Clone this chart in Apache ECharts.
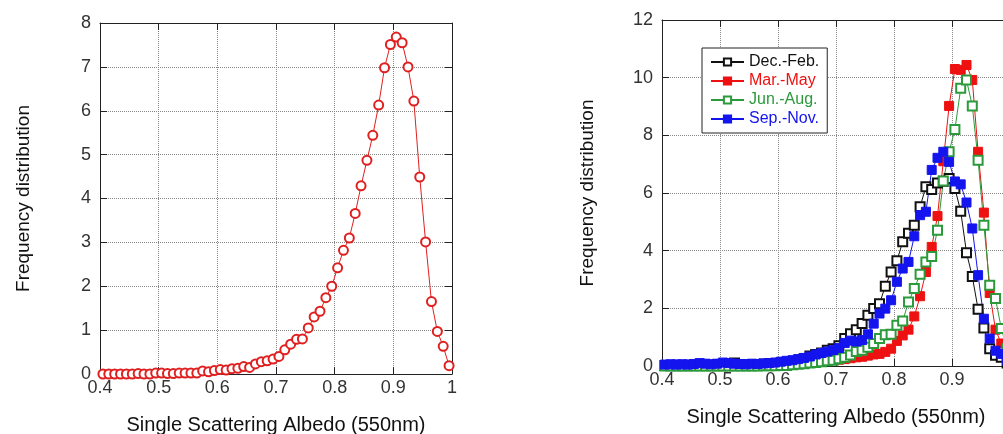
<!DOCTYPE html>
<html>
<head>
<meta charset="utf-8">
<script src="https://cdn.jsdelivr.net/npm/echarts@6/dist/echarts.min.js"></script>
<style>
html, body { margin: 0; padding: 0; background: #fff; }
#chart { width: 1003px; height: 434px; }
</style>
</head>
<body>
<div id="chart"></div>
<script>
// bin centres of single scattering albedo
var albedo = [
    0.405, 0.415, 0.425, 0.435, 0.445, 0.455, 0.465, 0.475, 0.485, 0.495,
    0.505, 0.515, 0.525, 0.535, 0.545, 0.555, 0.565, 0.575, 0.585, 0.595,
    0.605, 0.615, 0.625, 0.635, 0.645, 0.655, 0.665, 0.675, 0.685, 0.695,
    0.705, 0.715, 0.725, 0.735, 0.745, 0.755, 0.765, 0.775, 0.785, 0.795,
    0.805, 0.815, 0.825, 0.835, 0.845, 0.855, 0.865, 0.875, 0.885, 0.895,
    0.905, 0.915, 0.925, 0.935, 0.945, 0.955, 0.965, 0.975, 0.985, 0.995
];

// left panel: all data
var annual = [
    0, 0, 0, 0, 0, 0, 0.01, 0, 0, 0.02,
    0.02, 0.01, 0.01, 0.02, 0.02, 0.02, 0.02, 0.07, 0.05, 0.08,
    0.1, 0.09, 0.12, 0.13, 0.17, 0.15, 0.23, 0.28, 0.3, 0.34,
    0.4, 0.55, 0.68, 0.79, 0.8, 1.05, 1.3, 1.43, 1.74, 2.0,
    2.42, 2.82, 3.1, 3.66, 4.29, 4.87, 5.44, 6.13, 6.98, 7.51,
    7.68, 7.55, 7.0, 6.22, 4.49, 3.01, 1.65, 0.97, 0.63, 0.19
];

// right panel: seasons
var decFeb = [
    0.02, 0.02, 0.03, 0.02, 0.03, 0.02, 0.04, 0.03, 0.02, 0.05,
    0.04, 0.03, 0.1, 0.03, 0.04, 0.03, 0.05, 0.06, 0.08, 0.09,
    0.1, 0.12, 0.15, 0.2, 0.25, 0.35, 0.4, 0.45, 0.55, 0.6,
    0.7, 0.95, 1.12, 1.26, 1.47, 1.76, 1.99, 2.16, 2.77, 3.26,
    3.65, 4.31, 4.6, 4.88, 5.52, 6.22, 6.12, 6.35, 6.41, 6.5,
    6.16, 5.37, 3.93, 3.1, 1.97, 1.32, 0.6, 0.37, 0.3, 0.1
];
var marMay = [
    0, 0, 0.01, 0, 0.01, 0.01, 0, 0.01, 0.01, 0.01,
    0.01, 0.01, 0.02, 0.02, 0.02, 0.02, 0.03, 0.03, 0.04, 0.05,
    0.05, 0.07, 0.08, 0.1, 0.12, 0.14, 0.15, 0.17, 0.19, 0.21,
    0.22, 0.24, 0.27, 0.3, 0.32, 0.36, 0.4, 0.42, 0.49, 0.6,
    0.87, 1.06, 1.26, 1.72, 2.42, 3.26, 4.13, 5.2, 7.1, 9.02,
    10.3, 10.27, 10.44, 9.92, 7.43, 5.32, 2.53, 1.26, 0.78, 0.3
];
var junAug = [
    0, 0, 0, 0, 0, 0, 0, 0, 0, 0,
    0, 0, 0, 0, 0, 0, 0, 0.01, 0.01, 0.01,
    0.02, 0.02, 0.04, 0.06, 0.08, 0.1, 0.12, 0.15, 0.18, 0.2,
    0.25, 0.3, 0.38, 0.5, 0.55, 0.65, 0.78, 0.95, 1.08, 1.1,
    1.41, 1.56, 2.22, 2.69, 3.18, 3.61, 3.8, 4.71, 6.42, 7.43,
    8.2, 9.63, 9.92, 9.02, 7.14, 4.88, 2.8, 2.34, 1.3, 0.6
];
var sepNov = [
    0.05, 0.06, 0.05, 0.06, 0.05, 0.07, 0.1, 0.08, 0.06, 0.08,
    0.12, 0.1, 0.08, 0.07, 0.06, 0.08, 0.07, 0.09, 0.1, 0.12,
    0.15, 0.18, 0.2, 0.24, 0.28, 0.33, 0.4, 0.45, 0.5, 0.55,
    0.62, 0.8, 0.88, 0.85, 0.9, 1.1, 1.47, 1.82, 1.99, 2.28,
    2.92, 3.38, 3.61, 4.5, 5.23, 5.35, 6.8, 7.22, 7.43, 7.08,
    6.4, 6.3, 5.67, 4.77, 3.15, 1.64, 0.95, 0.53, 0.42, 0.2
];

var seasonNames = ['Dec.-Feb.', 'Mar.-May', 'Jun.-Aug.', 'Sep.-Nov.'];
var seasonColors = ['#111111', '#ee1111', '#2a9a3a', '#1414ee'];
var xTitle = 'Single Scattering Albedo (550nm)';
var yTitle = 'Frequency distribution';

function pairs(ys) {
    return albedo.map(function (x, i) { return [x, ys[i]]; });
}

var font = '"Liberation Sans", Arial, sans-serif';
var frameColor = '#222';

function xAxisMain(grid) {
    return {
        gridIndex: grid, type: 'value', min: 0.4, max: 1, interval: 0.1, position: 'bottom',
        axisLine: { onZero: false, lineStyle: { color: frameColor } },
        axisTick: { inside: true, length: 7, lineStyle: { color: frameColor } },
        axisLabel: {
            color: '#333', fontSize: 18, fontFamily: font, margin: 5,
            formatter: function (v) { return Math.abs(v - 1) < 1e-9 ? '1' : v.toFixed(1); }
        },
        splitLine: { show: true, lineStyle: { type: [1, 1], color: '#888' } },
        name: xTitle, nameLocation: 'middle', nameGap: 41,
        nameTextStyle: { fontSize: 20, color: '#111', fontFamily: font }
    };
}
function xAxisTop(grid) {
    return {
        gridIndex: grid, type: 'value', min: 0.4, max: 1, interval: 0.1, position: 'top',
        axisLine: { onZero: false, lineStyle: { color: frameColor } },
        axisTick: { inside: true, length: 7, lineStyle: { color: frameColor } },
        axisLabel: { show: false }, splitLine: { show: false }
    };
}
function yAxisMain(grid, max, step, gap) {
    return {
        gridIndex: grid, type: 'value', min: 0, max: max, interval: step, position: 'left',
        axisLine: { show: true, onZero: false, lineStyle: { color: frameColor } },
        axisTick: { show: true, inside: true, length: 7, lineStyle: { color: frameColor } },
        axisLabel: { color: '#333', fontSize: 18, fontFamily: font, margin: 9 },
        splitLine: { show: true, lineStyle: { type: [1, 1], color: '#888' } },
        name: yTitle, nameLocation: 'middle', nameGap: gap,
        nameTextStyle: { fontSize: 19, color: '#111', fontFamily: font }
    };
}
function yAxisRight(grid, max, step) {
    return {
        gridIndex: grid, type: 'value', min: 0, max: max, interval: step, position: 'right',
        axisLine: { show: true, onZero: false, lineStyle: { color: frameColor } },
        axisTick: { show: true, inside: true, length: 7, lineStyle: { color: frameColor } },
        axisLabel: { show: false }, splitLine: { show: false }
    };
}

function seasonSeries(i, ys, symbol) {
    return {
        name: seasonNames[i], type: 'line', xAxisIndex: 2, yAxisIndex: 2,
        data: pairs(ys), symbol: symbol, symbolSize: 9,
        lineStyle: { width: 1, color: seasonColors[i] },
        itemStyle: { color: seasonColors[i], borderColor: seasonColors[i], borderWidth: 1 }
    };
}

var chart = echarts.init(document.getElementById('chart'));
var option = {
    backgroundColor: '#fff',
    animation: false,
    grid: [
        { left: 100, top: 23, width: 352, height: 351, outerBoundsMode: 'none' },
        { left: 662, top: 20, width: 348, height: 346, outerBoundsMode: 'none' }
    ],
    xAxis: [xAxisMain(0), xAxisTop(0), xAxisMain(1), xAxisTop(1)],
    yAxis: [yAxisMain(0, 8, 1, 67), yAxisRight(0, 8, 1), yAxisMain(1, 12, 2, 65), yAxisRight(1, 12, 2)],
    legend: {
        orient: 'vertical', left: 702, top: 48,
        padding: [6, 8, 6, 8], itemGap: 3, itemWidth: 33, itemHeight: 9,
        backgroundColor: '#fff', borderColor: frameColor, borderWidth: 1, borderRadius: 0,
        textStyle: { fontSize: 16, fontFamily: font },
        data: seasonNames.map(function (n, i) {
            return { name: n, textStyle: { color: seasonColors[i] } };
        })
    },
    series: [
        {
            name: 'all', type: 'line', xAxisIndex: 0, yAxisIndex: 0,
            data: pairs(annual), symbol: 'emptyCircle', symbolSize: 9,
            lineStyle: { width: 1, color: '#e02020' },
            itemStyle: { color: '#e02020', borderColor: '#e02020', borderWidth: 1 }
        },
        seasonSeries(0, decFeb, 'emptyRect'),
        seasonSeries(1, marMay, 'rect'),
        seasonSeries(2, junAug, 'emptyRect'),
        seasonSeries(3, sepNov, 'rect')
    ]
};
chart.setOption(option);
</script>
</body>
</html>
